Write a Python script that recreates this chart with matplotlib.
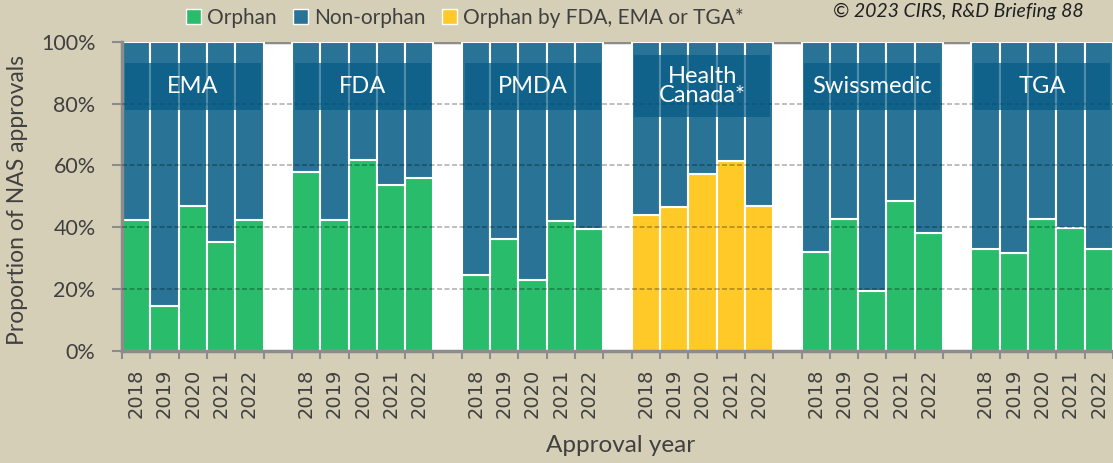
import matplotlib
matplotlib.use("Agg")
import matplotlib.pyplot as plt
from matplotlib.patches import Patch, Rectangle

plt.rcParams['font.family'] = ['Lato', 'DejaVu Sans']

agencies = ["EMA", "FDA", "PMDA", "Health\nCanada*", "Swissmedic", "TGA"]
years = ["2018", "2019", "2020", "2021", "2022"]
# share of orphan NAS approvals (%) per agency and year
ema = [42.4, 14.5, 47.0, 35.4, 42.2]
fda = [58.0, 42.4, 61.7, 53.7, 56.0]
pmda = [24.7, 36.3, 23.1, 42.0, 39.3]
health_canada = [43.9, 46.4, 57.3, 61.5, 47.0]
swissmedic = [32.1, 42.7, 19.3, 48.5, 38.3]
tga = [33.1, 31.7, 42.7, 39.8, 33.1]
orphan = [ema, fda, pmda, health_canada, swissmedic, tga]

green = '#28bc6b'
blue = '#287396'
yellow = '#ffc927'
beige = '#d5cfb7'
txt = '#404040'

fig = plt.figure(figsize=(11.13, 4.63), dpi=100, facecolor=beige)
ax = fig.add_axes([122 / 1113, 112 / 463, 991 / 1113, 309.3 / 463])
ax.set_facecolor('white')

xs_all = []
labels_all = []
for g, vals in enumerate(orphan):
    xs = [g * 6 + i for i in range(len(years))]
    col = yellow if g == 3 else green
    ax.bar(xs, vals, width=1.0, color=col, edgecolor='white', linewidth=1.5, zorder=2)
    ax.bar(xs, [100 - v for v in vals], bottom=vals, width=1.0, color=blue,
           edgecolor='white', linewidth=1.5, zorder=2)
    xs_all += xs
    labels_all += years
    # agency label box
    if g == 3:
        y0, h = 75.6, 20.1
    else:
        y0, h = 78.0, 15.0
    ax.add_patch(Rectangle((g * 6 - 0.4, y0), 4.8, h, facecolor='#065b85',
                           alpha=0.7, edgecolor='none', zorder=4))
    ax.text(g * 6 + 2, y0 + h / 2, agencies[g], color='white', fontsize=17,
            ha='center', va='center', linespacing=0.85, zorder=5)

# grey frame segments visible in gaps
ax.axhline(100, color='#8c8c8c', lw=2.5, zorder=1)
# dashed gridlines
ax.hlines([20, 40, 60, 80], -0.5, 34.5, colors='black', alpha=0.3,
          linestyles=(0, (3, 1.5)), lw=1.2, zorder=3)

ax.set_xlim(-0.5, 34.5)
ax.set_ylim(0, 100)
ax.set_yticks([0, 20, 40, 60, 80, 100])
ax.set_yticklabels(['0%', '20%', '40%', '60%', '80%', '100%'])
ax.set_xticks(xs_all)
ax.set_xticklabels(labels_all, rotation=90, family='DejaVu Sans', fontsize=14, color=txt)
ax.set_xticks([x - 0.5 for x in range(36)], minor=True)
ax.tick_params(axis='x', which='major', length=0, pad=13)
ax.tick_params(axis='x', which='minor', length=6, width=1.5, color='#8c8c8c', direction='out')
ax.tick_params(axis='y', length=7, width=1.5, color='#8c8c8c', pad=12, labelsize=15.5, labelcolor=txt)

for s in ['top', 'right']:
    ax.spines[s].set_visible(False)
ax.spines['left'].set_color('#8c8c8c')
ax.spines['left'].set_linewidth(2.5)
ax.spines['bottom'].set_color('#8c8c8c')
ax.spines['bottom'].set_linewidth(2.5)

fig.text(18 / 1113, 1 - 200 / 463, 'Proportion of NAS approvals', rotation=90,
         ha='center', va='center', fontsize=16.5, color=txt)
fig.text(621 / 1113, 1 - 446 / 463, 'Approval year', ha='center', va='center',
         fontsize=17.5, color=txt)

handles = [Patch(facecolor=green, edgecolor='white', label='Orphan'),
           Patch(facecolor=blue, edgecolor='white', label='Non-orphan'),
           Patch(facecolor=yellow, edgecolor='white', label='Orphan by FDA, EMA or TGA*')]
fig.legend(handles=handles, loc='center', bbox_to_anchor=(465 / 1113, 1 - 18 / 463), ncol=3,
           frameon=False, fontsize=15, handlelength=0.7, handleheight=0.7,
           handletextpad=0.3, columnspacing=0.8, labelcolor=txt)

fig.text(958 / 1113, 1 - 11 / 463, '\u00a9 2023 CIRS, R&D Briefing 88', ha='center', va='center',
         fontsize=14, style='italic', color='#202020')

fig.savefig('out.png', dpi=100, facecolor=beige)
